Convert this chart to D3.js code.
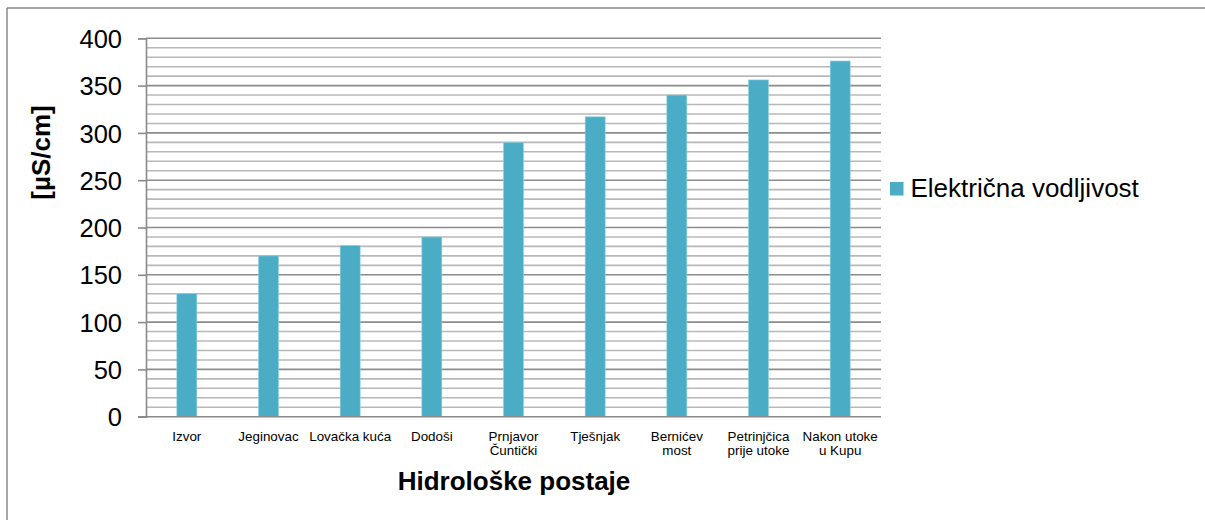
<!DOCTYPE html>
<html>
<head>
<meta charset="utf-8">
<script src="https://cdn.jsdelivr.net/npm/d3@7"></script>
<style>
  html, body { margin: 0; padding: 0; background: #fff; }
  svg { display: block; font-family: "Liberation Sans", Arial, sans-serif; }
</style>
</head>
<body>
<svg id="chart" width="1205" height="520"></svg>
<script>
const categories = [
  ["Izvor"],
  ["Jeginovac"],
  ["Lovačka kuća"],
  ["Dodoši"],
  ["Prnjavor", "Čuntički"],
  ["Tješnjak"],
  ["Bernićev", "most"],
  ["Petrinjčica", "prije utoke"],
  ["Nakon utoke", "u Kupu"]
];
const values = [130, 170, 181, 190, 290, 317, 340, 356, 376];
const yTicks = [0, 50, 100, 150, 200, 250, 300, 350, 400];
const minorTicks = d3.range(0, 401, 10);
const seriesName = "Električna vodljivost";
const xTitle = "Hidrološke postaje";
const yTitle = "[µS/cm]";

const svg = d3.select("#chart");
const L = 146, R = 881, T = 38.3, B = 416.7;

// frame (top + left visible)
svg.append("line").attr("x1", 7).attr("x2", 1205).attr("y1", 8).attr("y2", 8)
  .attr("stroke", "#8a8a8a").attr("stroke-width", 1.5);
svg.append("line").attr("x1", 7).attr("x2", 7).attr("y1", 8).attr("y2", 520)
  .attr("stroke", "#8a8a8a").attr("stroke-width", 1.5);

const x = d3.scaleBand().domain(categories.map(c => c.join(" ")))
  .range([L, R]).paddingInner(0.755).paddingOuter(0.3775);
const y = d3.scaleLinear().domain([0, 400]).range([B, T]);

// minor gridlines
svg.append("g").selectAll("line").data(minorTicks.filter(v => v % 50 !== 0)).join("line")
  .attr("x1", L).attr("x2", R).attr("y1", d => y(d)).attr("y2", d => y(d))
  .attr("stroke", "#b8b8b8").attr("stroke-width", 1.6);
// major gridlines
svg.append("g").selectAll("line").data(yTicks.filter(v => v > 0)).join("line")
  .attr("x1", L).attr("x2", R).attr("y1", d => y(d)).attr("y2", d => y(d))
  .attr("stroke", "#8c8c8c").attr("stroke-width", 1.6);

// bars
svg.append("g").selectAll("rect").data(values).join("rect")
  .attr("x", (d, i) => x(categories[i].join(" ")))
  .attr("width", x.bandwidth())
  .attr("y", d => y(d))
  .attr("height", d => y(0) - y(d))
  .attr("fill", "#4bacc6")
  .attr("stroke", "#8fd3e3").attr("stroke-width", 0.6);

// y axis
const yAxis = d3.axisLeft(y).tickValues(yTicks).tickSize(8).tickPadding(16);
const gy = svg.append("g").attr("transform", `translate(${L},0)`).call(yAxis);
gy.select(".domain").attr("stroke", "#8a8a8a").attr("stroke-width", 1.6);
gy.selectAll(".tick line").attr("stroke", "#8a8a8a").attr("stroke-width", 1.6);
gy.selectAll(".tick text").attr("font-size", "25.5px").attr("fill", "#000")
  .attr("font-family", "Liberation Sans, Arial, sans-serif").attr("dy", "0.36em");

// x axis
const xAxis = d3.axisBottom(x).tickSize(0).tickFormat("");
const gx = svg.append("g").attr("transform", `translate(0,${B})`).call(xAxis);
gx.select(".domain").attr("stroke", "#8a8a8a").attr("stroke-width", 1.6)
  .attr("d", `M${L - 8},0H${R}`);

// x labels
const lbl = svg.append("g").attr("font-size", "13.4px").attr("fill", "#000").attr("text-anchor", "middle");
categories.forEach(c => {
  const cx = x(c.join(" ")) + x.bandwidth() / 2;
  const t = lbl.append("text").attr("x", cx).attr("y", 440.5);
  c.forEach((line, j) => t.append("tspan").attr("x", cx).attr("dy", j === 0 ? 0 : 14.2).text(line));
});

// axis titles
svg.append("text").attr("x", 514).attr("y", 489.5).attr("text-anchor", "middle")
  .attr("font-size", "26px").attr("font-weight", "bold").text(xTitle);
svg.append("text").attr("transform", "translate(50,152.5) rotate(-90)").attr("text-anchor", "middle")
  .attr("font-size", "26px").attr("font-weight", "bold").text(yTitle);

// legend
svg.append("rect").attr("x", 890).attr("y", 182).attr("width", 13.5).attr("height", 13.5).attr("fill", "#4bacc6");
svg.append("text").attr("x", 910.5).attr("y", 196.7).attr("font-size", "26px").attr("fill", "#000").text(seriesName);
</script>
</body>
</html>
